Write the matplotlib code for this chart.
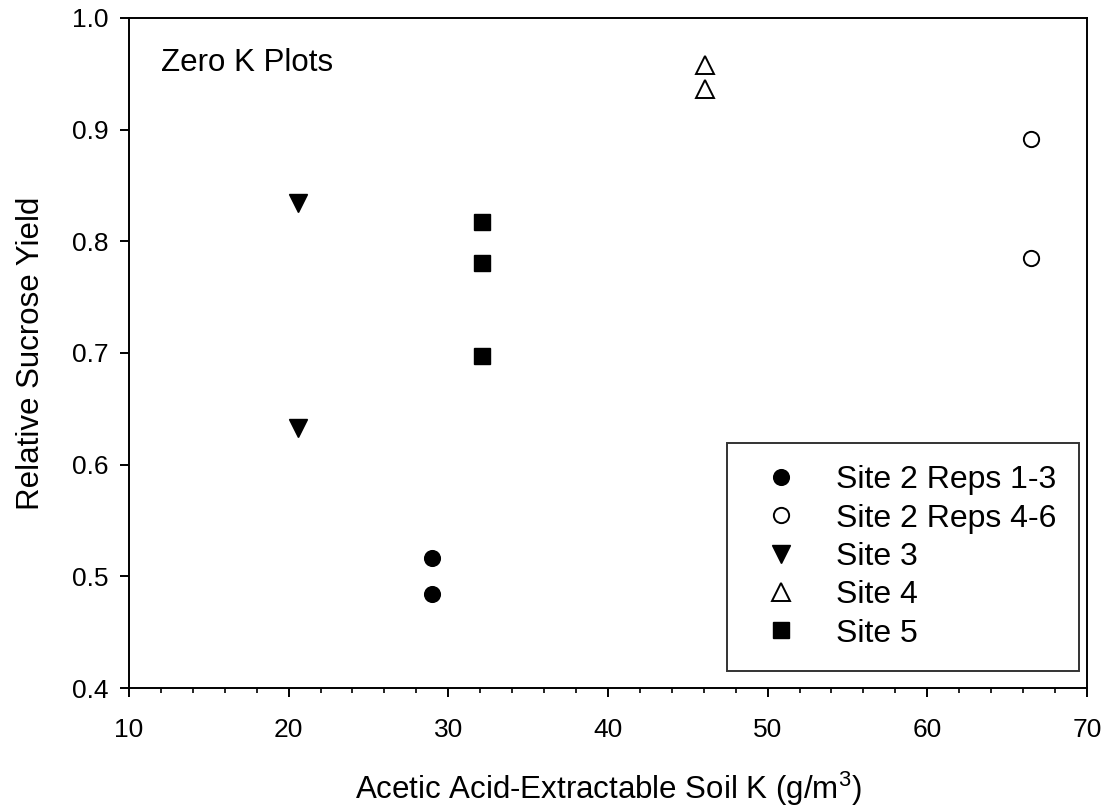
import matplotlib
matplotlib.use("Agg")
import matplotlib.pyplot as plt
from matplotlib.ticker import MultipleLocator

plt.rcParams["font.family"] = ["Liberation Sans", "DejaVu Sans"]
plt.rcParams["mathtext.fontset"] = "custom"
plt.rcParams["mathtext.rm"] = "Liberation Sans"

# values
site2a_k = [29.0, 29.0]
site2a_y = [0.516, 0.484]
site2b_k = [66.5, 66.5]
site2b_y = [0.892, 0.785]
site3_k = [20.6, 20.6]
site3_y = [0.834, 0.633]
site4_k = [46.1, 46.1]
site4_y = [0.958, 0.936]
site5_k = [32.1, 32.1, 32.1]
site5_y = [0.817, 0.781, 0.697]

labels = ["Site 2 Reps 1-3", "Site 2 Reps 4-6", "Site 3", "Site 4", "Site 5"]

fig = plt.figure(figsize=(11.07, 8.10), dpi=100)
ax = fig.add_axes([0.1165, 0.1506, 0.8654, 0.8272])

ax.plot(site2a_k, site2a_y, "o", ms=11.3, color="black", label=labels[0])
ax.plot(site2b_k, site2b_y, "o", ms=11.0, mfc="white", mec="black", mew=1.4, label=labels[1])
ax.plot(site3_k, site3_y, "v", ms=12.5, color="black", label=labels[2])
ax.plot(site4_k, site4_y, "^", ms=12.5, mfc="white", mec="black", mew=1.4, label=labels[3])
ax.plot(site5_k, site5_y, "s", ms=11.3, color="black", label=labels[4])

ax.set_xlim(10, 70)
ax.set_ylim(0.4, 1.0)
ax.xaxis.set_major_locator(MultipleLocator(10))
ax.xaxis.set_minor_locator(MultipleLocator(2))
ax.yaxis.set_major_locator(MultipleLocator(0.1))
ax.yaxis.set_major_formatter(matplotlib.ticker.FormatStrFormatter("%.1f"))

for spine in ax.spines.values():
    spine.set_linewidth(1.4)
ax.tick_params(axis="x", which="major", direction="out", length=6.5, width=1.4,
               labelsize=19, pad=15)
ax.tick_params(axis="x", which="minor", direction="out", length=3.5, width=1.2)
ax.tick_params(axis="y", which="major", direction="out", length=6.5, width=1.4,
               labelsize=19, pad=8)

ax.set_xlabel(r"Acetic Acid-Extractable Soil K (g/m$\mathregular{^3}$)", fontsize=22.5, labelpad=20)
ax.set_ylabel("Relative Sucrose Yield", fontsize=22.5, labelpad=19)

ax.text(0.0334, 0.921, "Zero K Plots", transform=ax.transAxes, fontsize=22.5,
        va="baseline", ha="left")

leg = ax.legend(loc="upper left", bbox_to_anchor=(727 / 1107, 1 - 443 / 810),
                bbox_transform=fig.transFigure, borderaxespad=0, fontsize=23,
                numpoints=1, frameon=True, fancybox=False, borderpad=0.7,
                handlelength=2.0, handletextpad=0.72, labelspacing=0.26)
leg.get_frame().set_edgecolor("black")
leg.get_frame().set_linewidth(1.4)

fig.savefig("out.png", dpi=100, facecolor="white")
